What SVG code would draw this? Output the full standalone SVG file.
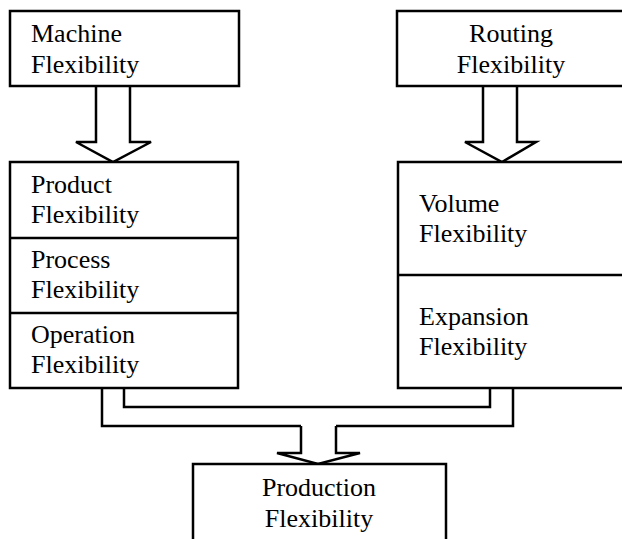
<svg xmlns="http://www.w3.org/2000/svg" width="622" height="539" viewBox="0 0 622 539">
  <style>
    .box { fill: #fff; stroke: #000; stroke-width: 2.5; }
    .div { stroke: #000; stroke-width: 2.5; fill: none; }
    .arrow { fill: #fff; stroke: #000; stroke-width: 2.5; stroke-linejoin: miter; }
    .bus { fill: none; stroke: #000; stroke-width: 2.5; stroke-linejoin: miter; }
    text { font-family: "Liberation Serif", "Times New Roman", serif; font-size: 26px; fill: #000; }
    .c { text-anchor: middle; }
  </style>
  <rect width="622" height="539" fill="#fff"/>

  <g id="connectors">
    <!-- Machine -> Product -->
    <path class="arrow" d="M96,86 V142 H76 L113,162 L151,142 H130 V86"/>
    <!-- Routing -> Volume -->
    <path class="arrow" d="M483,86 V142 H465 L502,162 L536,142 H517 V86"/>
    <!-- double-line bus from both stacks -->
    <path class="bus" d="M124,388 V407 H490 V388"/>
    <path class="bus" d="M102,388 V426 H301 M336,426 H513 V388"/>
    <!-- bus -> Production -->
    <path class="arrow" d="M301,426 V453 H277 L318,464 L360,453 H336 V426"/>
  </g>

  <g id="machine">
    <rect class="box" x="10" y="11" width="229" height="75"/>
    <text x="31" y="42">Machine</text>
    <text x="31" y="73">Flexibility</text>
  </g>

  <g id="routing">
    <rect class="box" x="397" y="11" width="235" height="75"/>
    <text class="c" x="511" y="42">Routing</text>
    <text class="c" x="511" y="73">Flexibility</text>
  </g>

  <g id="left-stack">
    <rect class="box" x="10" y="162" width="228" height="226"/>
    <line class="div" x1="10" y1="238" x2="238" y2="238"/>
    <line class="div" x1="10" y1="313" x2="238" y2="313"/>
  </g>
  <g id="product">
    <text x="31" y="193">Product</text>
    <text x="31" y="223">Flexibility</text>
  </g>
  <g id="process">
    <text x="31" y="268">Process</text>
    <text x="31" y="298">Flexibility</text>
  </g>
  <g id="operation">
    <text x="31" y="343">Operation</text>
    <text x="31" y="373">Flexibility</text>
  </g>

  <g id="right-stack">
    <rect class="box" x="398" y="162" width="234" height="226"/>
    <line class="div" x1="398" y1="275" x2="632" y2="275"/>
  </g>
  <g id="volume">
    <text x="419" y="212">Volume</text>
    <text x="419" y="242">Flexibility</text>
  </g>
  <g id="expansion">
    <text x="419" y="325">Expansion</text>
    <text x="419" y="355">Flexibility</text>
  </g>

  <g id="production">
    <rect class="box" x="193" y="464" width="253" height="90"/>
    <text class="c" x="319" y="496">Production</text>
    <text class="c" x="319" y="527">Flexibility</text>
  </g>
</svg>
